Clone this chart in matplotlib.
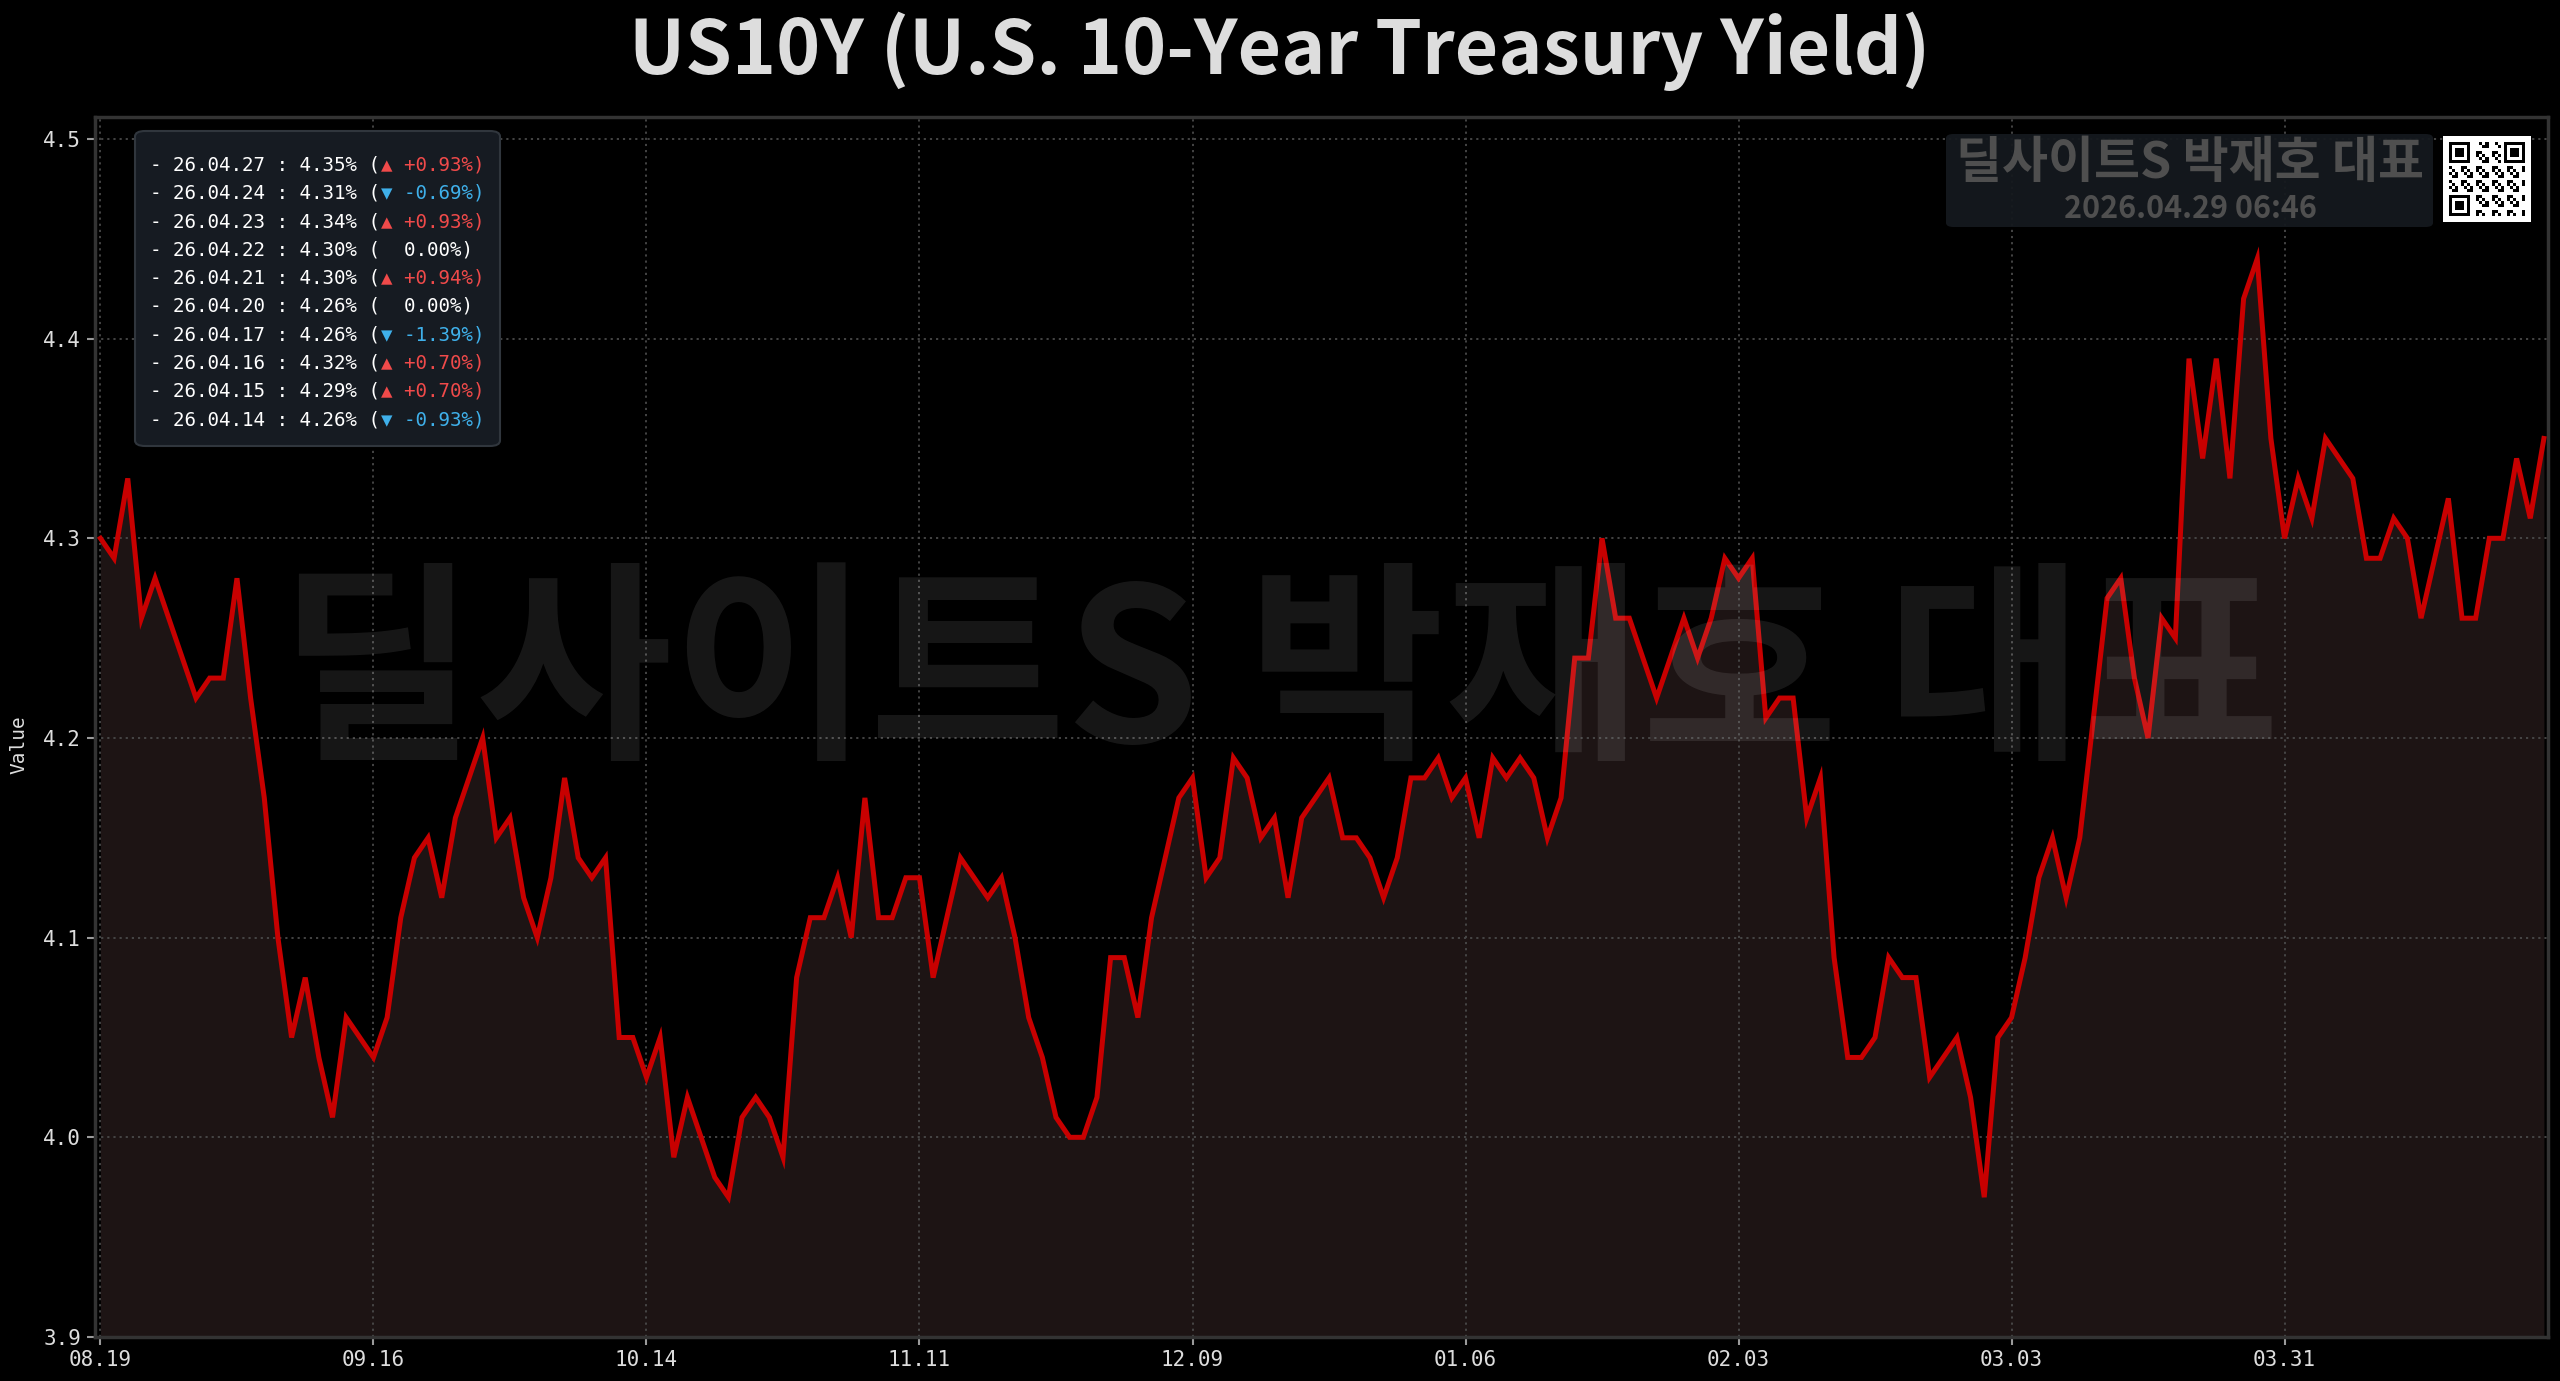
import numpy as np
import matplotlib
matplotlib.use("Agg")
import matplotlib.pyplot as plt
from matplotlib.patches import FancyBboxPatch
from matplotlib.transforms import offset_copy

# ---------------- data ----------------
title = "US10Y (U.S. 10-Year Treasury Yield)"
values = [
    4.30, 4.29, 4.33, 4.26, 4.28, 4.26, 4.24, 4.22, 4.23, 4.23,
    4.28, 4.22, 4.17, 4.10, 4.05, 4.08, 4.04, 4.01, 4.06, 4.05,
    4.04, 4.06, 4.11, 4.14, 4.15, 4.12, 4.16, 4.18, 4.20, 4.15,
    4.16, 4.12, 4.10, 4.13, 4.18, 4.14, 4.13, 4.14, 4.05, 4.05,
    4.03, 4.05, 3.99, 4.02, 4.00, 3.98, 3.97, 4.01, 4.02, 4.01,
    3.99, 4.08, 4.11, 4.11, 4.13, 4.10, 4.17, 4.11, 4.11, 4.13,
    4.13, 4.08, 4.11, 4.14, 4.13, 4.12, 4.13, 4.10, 4.06, 4.04,
    4.01, 4.00, 4.00, 4.02, 4.09, 4.09, 4.06, 4.11, 4.14, 4.17,
    4.18, 4.13, 4.14, 4.19, 4.18, 4.15, 4.16, 4.12, 4.16, 4.17,
    4.18, 4.15, 4.15, 4.14, 4.12, 4.14, 4.18, 4.18, 4.19, 4.17,
    4.18, 4.15, 4.19, 4.18, 4.19, 4.18, 4.15, 4.17, 4.24, 4.24,
    4.30, 4.26, 4.26, 4.24, 4.22, 4.24, 4.26, 4.24, 4.26, 4.29,
    4.28, 4.29, 4.21, 4.22, 4.22, 4.16, 4.18, 4.09, 4.04, 4.04,
    4.05, 4.09, 4.08, 4.08, 4.03, 4.04, 4.05, 4.02, 3.97, 4.05,
    4.06, 4.09, 4.13, 4.15, 4.12, 4.15, 4.21, 4.27, 4.28, 4.23,
    4.20, 4.26, 4.25, 4.39, 4.34, 4.39, 4.33, 4.42, 4.44, 4.35,
    4.30, 4.33, 4.31, 4.35, 4.34, 4.33, 4.29, 4.29, 4.31, 4.30,
    4.26, 4.29, 4.32, 4.26, 4.26, 4.30, 4.30, 4.34, 4.31, 4.35,
]
xtick_labels = ["08.19", "09.16", "10.14", "11.11", "12.09",
                "01.06", "02.03", "03.03", "03.31"]
xtick_every = 20
yticks = [3.9, 4.0, 4.1, 4.2, 4.3, 4.4, 4.5]
ylabel = "Value"

recent_dates = ["26.04.27", "26.04.24", "26.04.23", "26.04.22", "26.04.21",
                "26.04.20", "26.04.17", "26.04.16", "26.04.15", "26.04.14"]
recent_values = [4.35, 4.31, 4.34, 4.30, 4.30, 4.26, 4.26, 4.32, 4.29, 4.26]
recent_changes = [0.93, -0.69, 0.93, 0.00, 0.94, 0.00, -1.39, 0.70, 0.70, -0.93]

watermark = "딜사이트S 박재호 대표"
stamp = "2026.04.29 06:46"

# ---------------- style ----------------
BG = "#000000"
LINE = "#c80000"
FILL = "#1d1414"
TXT = "#dddddd"
UP = "#f04a4a"
DOWN = "#3fb0ea"
MONO = ["DejaVu Sans Mono", "DejaVu Sans"]
KR = ["Noto Sans CJK KR", "DejaVu Sans"]

W, H = 2560, 1381
fig = plt.figure(figsize=(W / 100, H / 100), dpi=100, facecolor=BG)

ax_l, ax_r, ax_t, ax_b = 95, 2548, 117, 1337
ax = fig.add_axes([ax_l / W, 1 - ax_b / H, (ax_r - ax_l) / W, (ax_b - ax_t) / H])
ax.set_facecolor(BG)

x = np.arange(len(values))
ax.fill_between(x, values, yticks[0], color=FILL, linewidth=0, zorder=1)
ax.plot(x, values, color=LINE, linewidth=3.6, zorder=4, solid_joinstyle="miter")

ax.set_xlim(-0.4, len(values) - 1 + 0.3)
ax.set_ylim(yticks[0], 4.511)

ax.set_xticks(list(range(0, xtick_every * len(xtick_labels), xtick_every)))
ax.set_xticklabels(xtick_labels)
ax.set_yticks(yticks)
ax.set_yticklabels([f"{v:.1f}" for v in yticks])

for lab in ax.get_xticklabels() + ax.get_yticklabels():
    lab.set_fontfamily(MONO)
    lab.set_fontsize(15)
    lab.set_color(TXT)
ax.tick_params(axis="both", colors="#9a9a9a", length=6, width=1.5)
ax.tick_params(axis="both", labelcolor=TXT)
ax.tick_params(axis="y", pad=4)
ax.tick_params(axis="x", pad=3)

ax.grid(True, color="#4a4a4a", linestyle=(0, (1.2, 2.2)), linewidth=1.3)
for sp in ax.spines.values():
    sp.set_color("#333333")
    sp.set_linewidth(2.5)

fig.text(19 / W, 1 - 745 / H, ylabel, rotation=90, ha="center", va="center",
         fontsize=14, color=TXT, family=MONO)

# title
fig.text(0.5, 1 - 51 / H, title, ha="center", va="center", fontsize=54,
         fontweight="bold", color=TXT, family=KR)

# big watermark (centred on the figure)
fig.text(0.5, 1 - 679 / H, watermark, ha="center", va="center",
         fontsize=154, fontweight="bold", color="white", alpha=0.09,
         family=KR, zorder=3)

# ---------------- recent values box ----------------
bx0, by0, bx1, by1 = 135, 131, 500, 446
box = FancyBboxPatch((bx0 / W, 1 - by1 / H), (bx1 - bx0) / W, (by1 - by0) / H,
                     boxstyle="round,pad=0,rounding_size=0.004",
                     transform=fig.transFigure, facecolor="#161b22",
                     edgecolor="#30363d", linewidth=1.5, zorder=5)
fig.add_artist(box)

FS = 13.8
char_pt = 0.602 * FS
for i, (d, v, c) in enumerate(zip(recent_dates, recent_values, recent_changes)):
    yy = 1 - (165 + 28.3 * i) / H
    xx = 150 / W
    prefix = f"- {d} : {v:.2f}% ("
    fig.text(xx, yy, prefix, ha="left", va="center", fontsize=FS,
             color="white", family=MONO, zorder=6)
    if c > 0:
        rest, col = f"▲ +{c:.2f}%)", UP
    elif c < 0:
        rest, col = f"▼ {c:.2f}%)", DOWN
    else:
        rest, col = f"  {c:.2f}%)", "white"
    tr = offset_copy(fig.transFigure, fig=fig, x=char_pt * len(prefix), y=0,
                     units="points")
    fig.text(xx, yy, rest, ha="left", va="center", fontsize=FS, color=col,
             family=MONO, transform=tr, zorder=6)

# ---------------- watermark stamp box ----------------
sx0, sy0, sx1, sy1 = 1946, 134, 2433, 227
sbox = FancyBboxPatch((sx0 / W, 1 - sy1 / H), (sx1 - sx0) / W, (sy1 - sy0) / H,
                      boxstyle="round,pad=0,rounding_size=0.003",
                      transform=fig.transFigure, facecolor="#15191e",
                      edgecolor="none", alpha=0.95, zorder=5)
fig.add_artist(sbox)
fig.text(2190 / W, 1 - 164 / H, watermark, ha="center", va="center",
         fontsize=36, fontweight="bold", color="#4f4f4f", family=KR, zorder=6)
fig.text(2190 / W, 1 - 209 / H, stamp, ha="center", va="center",
         fontsize=22, fontweight="bold", color="#4f4f4f", family=KR, zorder=6)

# QR-like badge (decorative)
n = 25
qr = np.zeros((n, n))
ii, jj = np.meshgrid(np.arange(n), np.arange(n), indexing="ij")
qr[((ii * 7 + jj * 13 + ii * jj) % 5) < 2] = 1
def finder(r, c):
    qr[r:r + 7, c:c + 7] = 1
    qr[r + 1:r + 6, c + 1:c + 6] = 0
    qr[r + 2:r + 5, c + 2:c + 5] = 1
for (r, c) in [(0, 0), (0, n - 7), (n - 7, 0)]:
    qr[max(r - 1, 0):r + 8, max(c - 1, 0):c + 8] = 0
    finder(r, c)
qx0, qy0, qx1, qy1 = 2443, 136, 2531, 222
qax = fig.add_axes([qx0 / W, 1 - qy1 / H, (qx1 - qx0) / W, (qy1 - qy0) / H])
qax.set_facecolor("white")
pad = 2
big = np.zeros((n + 2 * pad, n + 2 * pad))
big[pad:pad + n, pad:pad + n] = qr
qax.imshow(1 - big, cmap="gray", vmin=0, vmax=1, interpolation="nearest",
           aspect="auto")
qax.set_axis_off()

fig.savefig("out.png", dpi=100, facecolor=BG)
